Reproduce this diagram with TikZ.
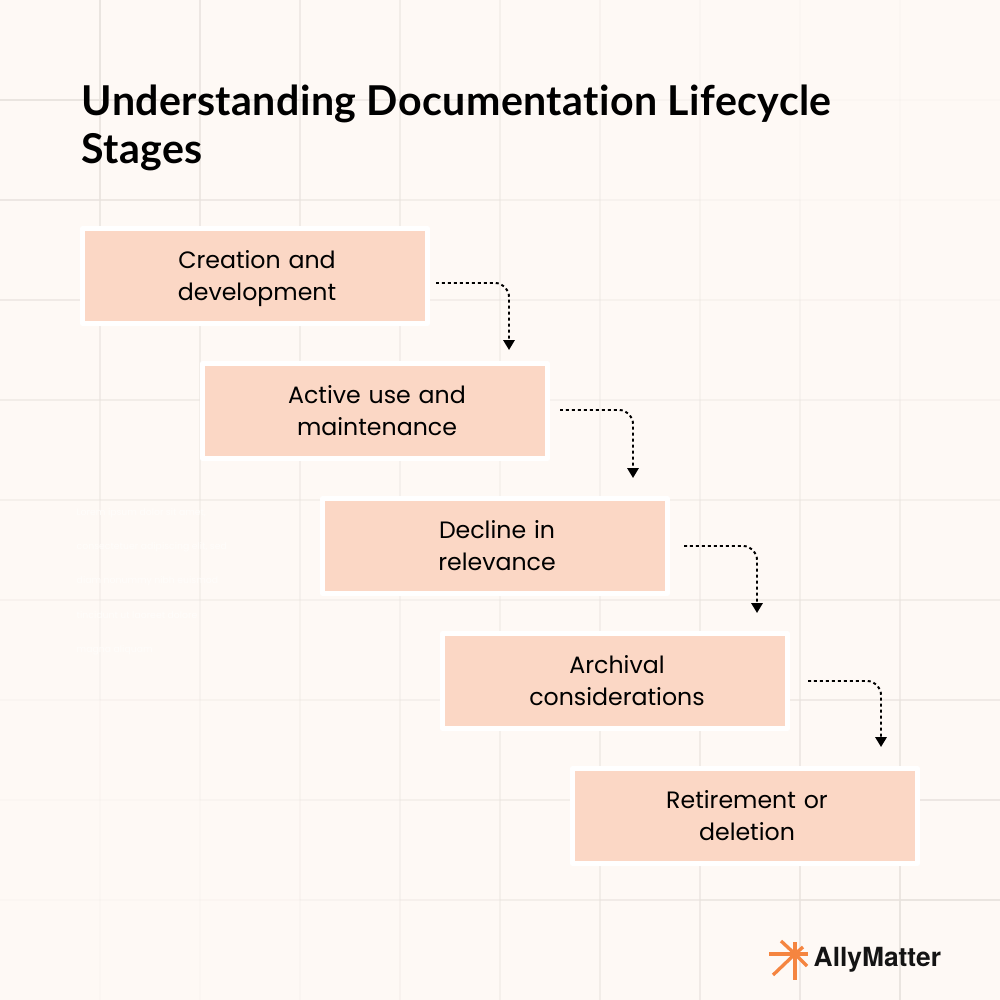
\documentclass[tikz,border=0pt]{standalone}
\usepackage{fontspec}
\setmainfont{Poppins}
\newfontfamily\titlefont[LetterSpace=1.0,Ligatures=NoCommon]{Lato}
\newfontfamily\brandfont{TeX Gyre Heros}
\usetikzlibrary{arrows.meta}
\definecolor{paper}{HTML}{FEF9F5}
\definecolor{gridline}{HTML}{E8E2DD}
\definecolor{peach}{HTML}{FBD7C5}
\definecolor{spark}{HTML}{F58540}
\definecolor{ghost}{HTML}{FFFDFB}
\tikzset{
  declare function={gridfade(\p,\q)=max(0.12,(1-1.3*abs(\p+\q-10)/10)*(0.25+0.75*max(abs(\p-5),abs(\q-5))/5));},
  stage/.style={draw=white, line width=1.42pt, line join=round, fill=peach, minimum width=3.45cm, minimum height=0.95cm, text width=3cm, align=center, font=\fontsize{6.73}{9.1}\selectfont, inner sep=0pt, text height=7pt, text depth=11pt, execute at begin node={\advance\leftskip 1.14pt}},
  link/.style={dash pattern=on 0.85pt off 0.85pt, line width=0.55pt, rounded corners=4pt, -{Triangle[length=2.8pt,width=3.2pt]}},
  ghosttext/.style={text=ghost, font=\fontsize{2.65}{3}\selectfont, anchor=west, inner sep=0pt}
}
\begin{document}
\begin{tikzpicture}
\useasboundingbox (0,0) rectangle (10,10);
\fill[paper] (0,0) rectangle (10,10);
\foreach \i in {0,...,9} \foreach \j in {1,...,9} {
  \pgfmathsetmacro\fadev{gridfade(\j,\i+0.5)}
  \pgfmathsetmacro\fadeh{gridfade(\i+0.5,\j)}
  \draw[gridline, line width=0.4pt, opacity=\fadev] (\j,\i) -- (\j,\i+1);
  \draw[gridline, line width=0.4pt, opacity=\fadeh] (\i,\j) -- (\i+1,\j);
}

\node[anchor=west, inner sep=0pt, align=left, font=\titlefont\bfseries\fontsize{11.7}{13.5}\selectfont] (title) at (0.81,8.72) {Understanding Documentation Lifecycle\\Stages};

\node[ghosttext] (ghosta) at (0.76,4.87) {Lorem ipsum dolor sit amet,};
\node[ghosttext] (ghostb) at (0.76,4.53) {consectetuer adipiscing elit, sed};
\node[ghosttext] (ghostc) at (0.76,4.19) {diam nonummy nibh euismod};
\node[ghosttext] (ghostd) at (0.76,3.85) {tincidunt ut laoreet dolore};
\node[ghosttext] (ghoste) at (0.76,3.50) {magna aliquam};

\node[stage] (creation) at (2.55,7.24) {Creation and\\development};
\node[stage] (active) at (3.75,5.89) {Active use and\\maintenance};
\node[stage] (decline) at (4.95,4.54) {Decline in\\relevance};
\node[stage] (archival) at (6.15,3.19) {Archival\\considerations};
\node[stage] (retirement) at (7.45,1.84) {Retirement or\\deletion};

\draw[link] ([shift={(0.06,-0.07)}]creation.east) -| ([shift={(1.34,0.11)}]active.north);
\draw[link] ([shift={(0.10,0.01)}]active.east) -| ([shift={(1.38,0.18)}]decline.north);
\draw[link] ([shift={(0.14,0)}]decline.east) -| ([shift={(1.42,0.18)}]archival.north);
\draw[link] ([shift={(0.18,0)}]archival.east) -| ([shift={(1.36,0.19)}]retirement.north);

% logo
\coordinate (logo) at (7.95,0.46);
\foreach \dx/\dy in {-0.26/0,0.13/0,0/0.12,0/-0.26,-0.14/0.13,0.12/-0.12,-0.22/-0.21,0.08/0.07}
  \draw[spark, line width=0.95pt] (logo) -- ++(\dx,\dy);
\node[anchor=base west, inner sep=0pt, font=\brandfont\bfseries\fontsize{7.5}{7.5}\selectfont, text=black!92] (brand) at (8.13,0.333) {AllyMatter};
\end{tikzpicture}
\end{document}
